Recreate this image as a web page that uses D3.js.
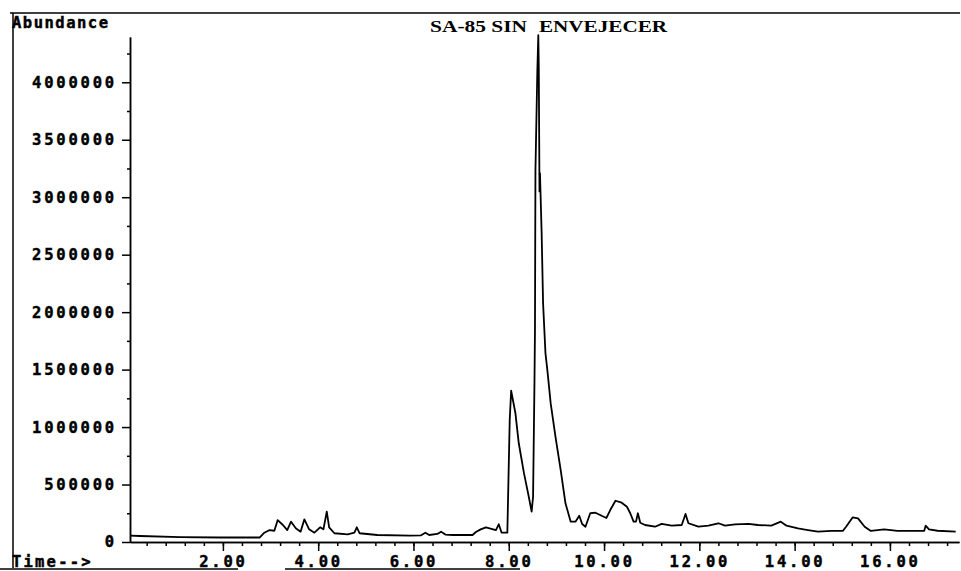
<!DOCTYPE html>
<html>
<head>
<meta charset="utf-8">
<script src="https://cdn.jsdelivr.net/npm/d3@7"></script>
<style>
  body { margin: 0; background: #fff; }
  svg { display: block; }
  .mono { font-family: "DejaVu Sans Mono", monospace; font-weight: bold; stroke: #000; stroke-width: 0.45px; }
</style>
</head>
<body>
<svg id="chart"></svg>
<script>
const retentionTime = [
  0.05, 0.26, 1.10, 1.94, 2.77, 2.87, 2.98, 3.08, 3.15, 3.26,
  3.35, 3.43, 3.53, 3.63, 3.71, 3.81, 3.92, 4.04, 4.11, 4.18,
  4.23, 4.34, 4.62, 4.76, 4.81, 4.87, 5.24, 5.93, 6.16, 6.25,
  6.33, 6.50, 6.58, 6.67, 6.82, 7.24, 7.31, 7.41, 7.52, 7.73,
  7.79, 7.85, 7.97, 8.02, 8.05, 8.14, 8.21, 8.32, 8.42, 8.48,
  8.51, 8.54, 8.55, 8.56, 8.58, 8.60, 8.62, 8.63, 8.645, 8.655,
  8.69, 8.72, 8.77, 8.81, 8.88, 8.98, 9.09, 9.19, 9.30, 9.40,
  9.48, 9.54, 9.61, 9.71, 9.82, 9.96, 10.05, 10.13, 10.24, 10.37,
  10.48, 10.55, 10.62, 10.67, 10.71, 10.76, 10.86, 11.07, 11.21, 11.42,
  11.63, 11.71, 11.77, 11.98, 12.19, 12.40, 12.54, 12.75, 13.03, 13.23,
  13.51, 13.71, 13.83, 14.07, 14.28, 14.49, 14.77, 15.01, 15.08, 15.22,
  15.33, 15.47, 15.60, 15.88, 16.16, 16.51, 16.72, 16.75, 16.82, 17.00,
  17.38
];

// Abundancia correspondiente a cada tiempo
const abundance = [
  55000, 52000, 43000, 39000, 39000, 81000, 104000, 98000, 191000, 148000,
  104000, 177000, 119000, 90000, 197000, 110000, 81000, 128000, 110000, 264000,
  128000, 76000, 67000, 81000, 128000, 76000, 61000, 55000, 58000, 81000,
  61000, 70000, 90000, 65000, 61000, 61000, 87000, 110000, 128000, 104000,
  154000, 81000, 81000, 1061000, 1316000, 1120000, 859000, 597000, 394000, 264000,
  394000, 1409000, 1844000, 3236000, 3671000, 4106000, 4411000, 4133000, 3050000, 3210000,
  2688000, 2079000, 1644000, 1496000, 1206000, 916000, 626000, 337000, 177000, 177000,
  229000, 157000, 133000, 250000, 255000, 226000, 209000, 278000, 359000, 342000,
  307000, 250000, 177000, 177000, 250000, 168000, 148000, 133000, 157000, 142000,
  148000, 244000, 163000, 133000, 142000, 163000, 142000, 154000, 157000, 148000,
  142000, 177000, 142000, 119000, 104000, 90000, 96000, 96000, 133000, 215000,
  206000, 133000, 96000, 110000, 96000, 96000, 98000, 142000, 110000, 98000,
  90000
];

// Marcas de los ejes
const yTicks = [0, 500000, 1000000, 1500000, 2000000, 2500000, 3000000, 3500000, 4000000];
const xTicks = [2, 4, 6, 8, 10, 12, 14, 16];

const width = 961;
const height = 571;

const svg = d3.select("#chart")
    .attr("width", width)
    .attr("height", height);

const x = d3.scaleLinear().domain([0.05, 17.45]).range([130, 959]);
const y = d3.scaleLinear().domain([0, 4394000]).range([542, 37]);

// Marco superior e izquierdo (como en el impreso)
svg.append("line")
    .attr("x1", 10).attr("x2", 960)
    .attr("y1", 13).attr("y2", 13)
    .attr("stroke", "#000").attr("stroke-width", 1.5);
svg.append("line")
    .attr("x1", 13).attr("x2", 13)
    .attr("y1", 13).attr("y2", 568)
    .attr("stroke", "#000").attr("stroke-width", 1.5);

// Subrayados inferiores
[[0, 238], [285, 520]].forEach(([a, b]) => {
    svg.append("line")
        .attr("x1", a).attr("x2", b)
        .attr("y1", 569).attr("y2", 569)
        .attr("stroke", "#000").attr("stroke-width", 1.5);
});

// Eje Y
svg.append("g")
    .attr("transform", `translate(130,0)`)
    .call(d3.axisLeft(y).tickValues(yTicks).tickSize(8).tickPadding(5).tickSizeOuter(0)
        .tickFormat(d3.format("d")));

// Marcas menores Y
svg.append("g")
    .attr("transform", `translate(130,0)`)
    .call(d3.axisLeft(y).tickValues(d3.range(250000, 4394000, 500000)).tickSize(3).tickFormat("").tickSizeOuter(0));

// Eje X
svg.append("g")
    .attr("transform", `translate(0,542)`)
    .call(d3.axisBottom(x).tickValues(xTicks).tickSize(9).tickPadding(5).tickSizeOuter(0)
        .tickFormat(d3.format(".2f")));

// Marcas menores X
svg.append("g")
    .attr("transform", `translate(0,542)`)
    .call(d3.axisBottom(x).tickValues(d3.range(0.4, 17.41, 0.4)).tickSize(4).tickFormat("").tickSizeOuter(0));

svg.selectAll(".domain").attr("stroke", "#000").attr("stroke-width", 1.5);
svg.selectAll(".tick line").attr("stroke", "#000").attr("stroke-width", 1.5);
svg.selectAll(".tick text")
    .attr("class", "mono")
    .attr("font-size", 15.5)
    .attr("letter-spacing", 2.8)
    .attr("fill", "#000");

// Curva del cromatograma
const data = retentionTime.map((t, i) => ({ t, a: abundance[i] }));
const line = d3.line()
    .x(d => x(d.t))
    .y(d => y(d.a));

svg.append("path")
    .datum(data)
    .attr("d", line)
    .attr("fill", "none")
    .attr("stroke", "#000")
    .attr("stroke-width", 1.8)
    .attr("stroke-linejoin", "round");

// Textos
svg.append("text")
    .attr("class", "mono")
    .attr("x", 12).attr("y", 28)
    .attr("font-size", 15.5)
    .attr("letter-spacing", 1.5)
    .text("Abundance");

svg.append("text")
    .attr("class", "mono")
    .attr("x", 12).attr("y", 567)
    .attr("font-size", 15.5)
    .attr("letter-spacing", 2.2)
    .text("Time-->");

svg.append("text")
    .attr("x", 430).attr("y", 32)
    .attr("font-family", "Liberation Serif, serif")
    .attr("font-weight", "bold")
    .attr("font-size", 16)
    .attr("textLength", 97)
    .attr("lengthAdjust", "spacingAndGlyphs")
    .text("SA-85 SIN");

svg.append("text")
    .attr("x", 539).attr("y", 32)
    .attr("font-family", "Liberation Serif, serif")
    .attr("font-weight", "bold")
    .attr("font-size", 16)
    .attr("textLength", 128)
    .attr("lengthAdjust", "spacingAndGlyphs")
    .text("ENVEJECER");
</script>
</body>
</html>
